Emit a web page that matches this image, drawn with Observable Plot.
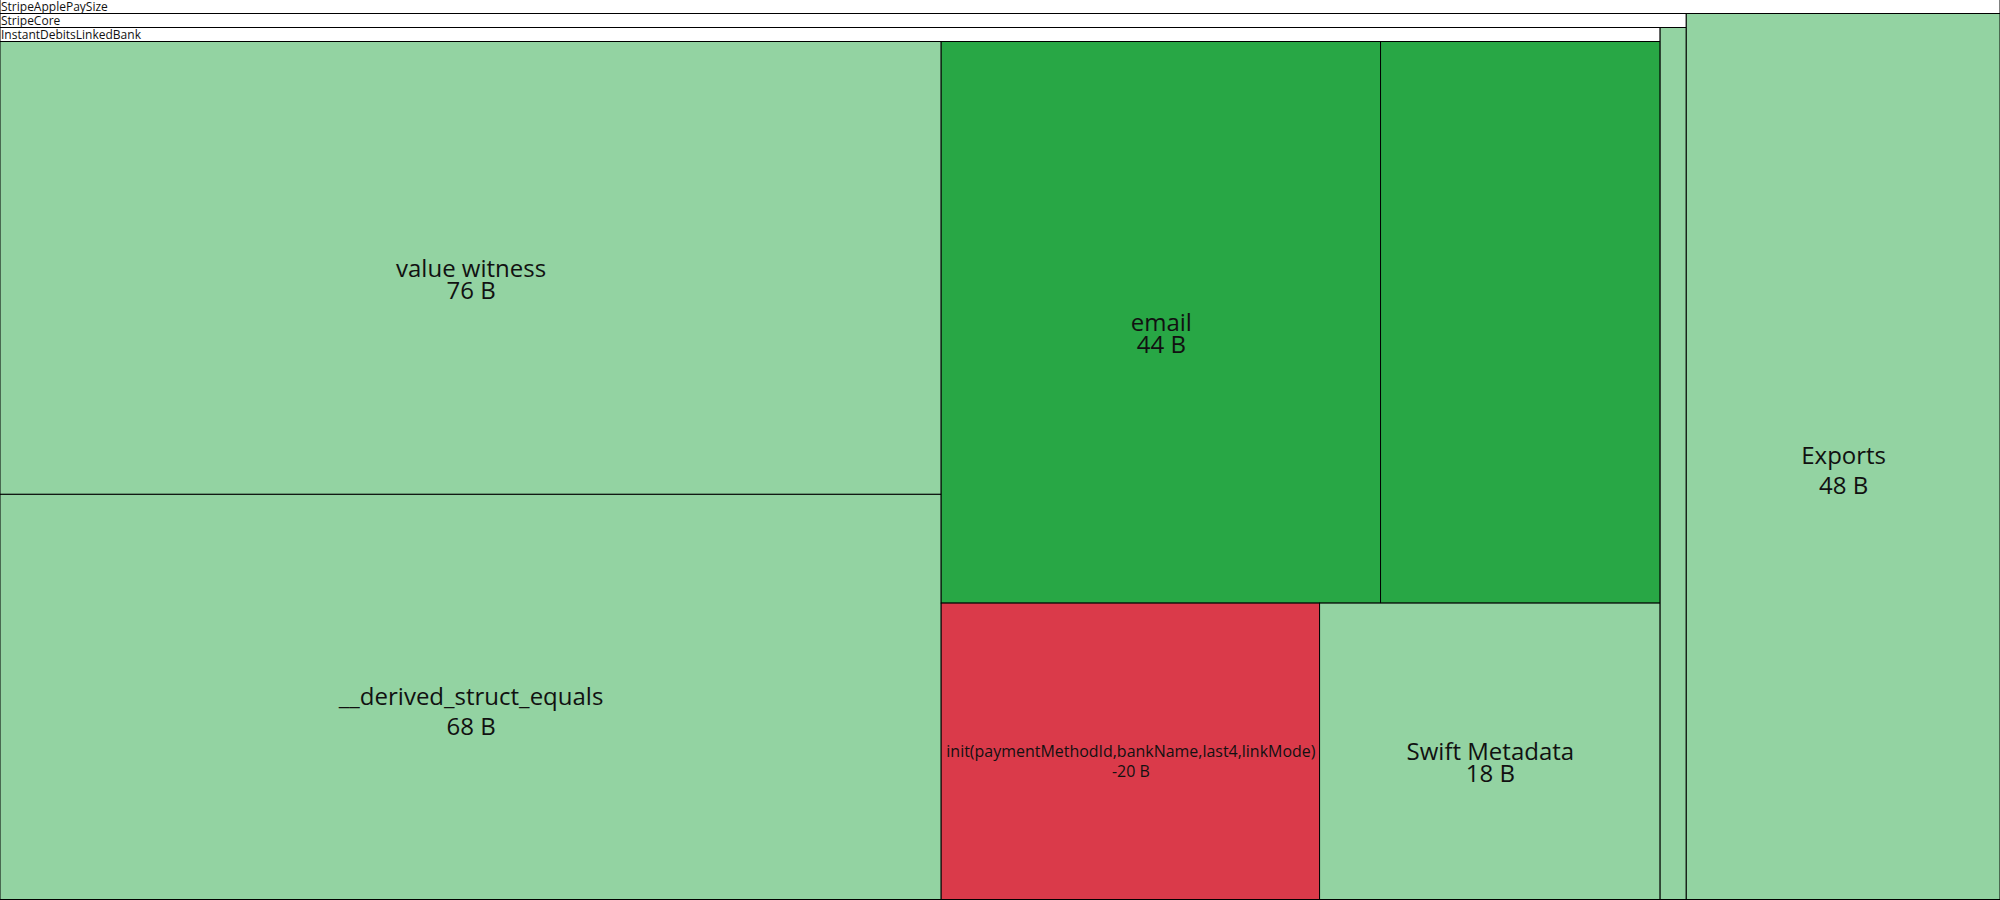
<!DOCTYPE html>
<html>
<head>
<meta charset="utf-8">
<script src="https://cdn.jsdelivr.net/npm/d3@7"></script>
<script src="https://cdn.jsdelivr.net/npm/@observablehq/plot@0.6"></script>
<style>
  html, body { margin: 0; padding: 0; background: #fff; overflow: hidden; }
  #chart svg { display: block; }
</style>
</head>
<body>
<div id="chart"></div>
<script>
// ---- data ----
const nodeIds     = ["root", "core", "idlb", "vw", "dse", "email", "anon", "init", "swift", "coreOther", "exports"];
const nodeParents = ["", "root", "core", "idlb", "idlb", "idlb", "idlb", "idlb", "idlb", "core", "root"];
const nodeNames   = ["StripeApplePaySize", "StripeCore", "InstantDebitsLinkedBank", "value witness", "__derived_struct_equals", "email", "", "init(paymentMethodId,bankName,last4,linkMode)", "Swift Metadata", "", "Exports"];
const nodeBytes   = [null, null, null, 76, 68, 44, 28, -20, 18, 4, 48];
const nodeStatus  = [null, null, null, "grown", "grown", "new", "new", "removed", "grown", "grown", "grown"];

const statusDomain = ["new", "grown", "removed"];
const statusColors = ["#28a745", "#93d3a2", "#da3a4a"];

// ---- layout ----
const W = 2000, H = 900;
const table = nodeIds.map((id, i) => ({id, parent: nodeParents[i] || null, name: nodeNames[i], bytes: nodeBytes[i], status: nodeStatus[i]}));
const root = d3.stratify().id(d => d.id).parentId(d => d.parent)(table)
  .sum(d => d.bytes == null ? 0 : Math.abs(d.bytes))
  .sort((a, b) => b.value - a.value);
d3.treemap().size([W, H]).paddingTop(14).round(false)(root);

const internal = root.descendants().filter(d => d.children);
const leaves = root.leaves();

const ctx = document.createElement("canvas").getContext("2d");
ctx.font = "100px 'Open Sans'";
const unit = s => ctx.measureText(s).width / 100;

const labels = leaves.filter(d => d.data.name).map(d => {
  const w = d.x1 - d.x0;
  const valueText = `${d.data.bytes} B`;
  const f = Math.min(24, (w - 9) / Math.max(unit(d.data.name), unit(valueText)));
  const cx = (d.x0 + d.x1) / 2, cy = (d.y0 + d.y1) / 2;
  const hasDesc = /[gjpqy_(),]/.test(d.data.name);
  const nameBase = cy + (hasDesc ? 0.3 : 0.36) * f;
  return {name: d.data.name, value: valueText, f, cx, nameBase, valueBase: nameBase + f * (hasDesc ? 1.25 : 0.9)};
});

const chart = Plot.plot({
  width: W,
  height: H,
  margin: 0,
  x: {domain: [0, W], range: [0, W], axis: null},
  y: {domain: [0, H], range: [-0.5, H - 0.5], axis: null},
  color: {domain: statusDomain, range: statusColors},
  style: {fontFamily: "'Open Sans', sans-serif", background: "#fff", overflow: "hidden"},
  marks: [
    Plot.rect(internal, {x1: d => d.x0, x2: d => d.x1, y1: d => d.y0, y2: d => d.y1, fill: "white", stroke: "black", strokeWidth: 1}),
    Plot.text(internal, {x: d => d.x0, y: d => d.y0 + 10.8, text: d => d.data.name, textAnchor: "start", lineAnchor: "bottom", fontSize: 12, fill: "#111", dx: 0.5}),
    Plot.rect(leaves, {x1: d => d.x0, x2: d => d.x1, y1: d => d.y0, y2: d => d.y1, fill: d => d.data.status, stroke: "black", strokeWidth: 1}),
    Plot.text(labels, {x: "cx", y: "nameBase", text: "name", fontSize: "f", lineAnchor: "bottom", fill: "#111"}),
    Plot.text(labels, {x: "cx", y: "valueBase", text: "value", fontSize: "f", lineAnchor: "bottom", fill: "#111"})
  ]
});
document.getElementById("chart").appendChild(chart);
</script>
</body>
</html>
